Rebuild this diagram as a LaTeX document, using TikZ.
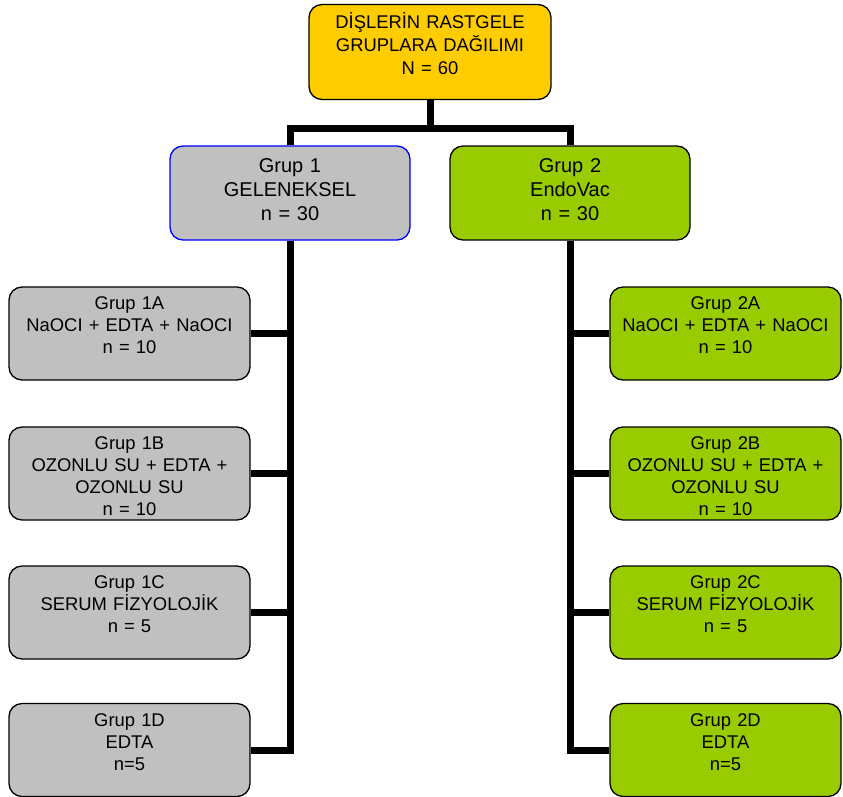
\documentclass[tikz,border=0pt]{standalone}
\usepackage{fontspec}
\setmainfont{Liberation Sans}
\usetikzlibrary{calc}

\definecolor{topyellow}{RGB}{255,204,0}
\definecolor{grupgray}{RGB}{192,192,192}
\definecolor{grupgreen}{RGB}{153,204,0}

\begin{document}
\begin{tikzpicture}[x=1pt,y=-1pt,
    box/.style={draw=black,line width=1.3pt,rounded corners=13pt,inner sep=0pt,align=center},
    mainbox/.style={box,fill=topyellow,text width=242pt,text height=24pt,text depth=71pt,
        font=\fontsize{18.4}{23}\selectfont},
    grupbox/.style={box,text width=240pt,text height=26pt,text depth=68pt,
        font=\fontsize{20}{24.3}\selectfont},
    subbox/.style={box,text height=22.5pt,text depth=70.5pt,
        font=\fontsize{18.4}{22}\selectfont},
    leftbox/.style={subbox,fill=grupgray,text width=241pt},
    rightbox/.style={subbox,fill=grupgreen,text width=231pt},
    link/.style={line width=7pt}]

\useasboundingbox (0,0) rectangle (843,796);

% Main box
\node[mainbox] (top) at (430,52) {DİŞLERİN RASTGELE\\GRUPLARA DAĞILIMI\\N = 60};

% Two groups
\node[grupbox,fill=grupgray,draw=blue] (g1) at (290,193) {Grup 1\\GELENEKSEL\\n = 30};
\node[grupbox,fill=grupgreen] (g2) at (570,193) {Grup 2\\EndoVac\\n = 30};

% Sub groups, left
\node[leftbox] (g1a) at (129.5,333.5) {Grup 1A\\NaOCI + EDTA + NaOCI\\n = 10};
\node[leftbox] (g1b) at (129.5,473.5) {Grup 1B\\OZONLU SU + EDTA +\\OZONLU SU\\n = 10};
\node[leftbox] (g1c) at (129.5,612.5) {Grup 1C\\SERUM FİZYOLOJİK\\n = 5};
\node[leftbox] (g1d) at (129.5,750) {Grup 1D\\EDTA\\n=5};

% Sub groups, right
\node[rightbox] (g2a) at (725.5,333.5) {Grup 2A\\NaOCI + EDTA + NaOCI\\n = 10};
\node[rightbox] (g2b) at (725.5,473.5) {Grup 2B\\OZONLU SU + EDTA +\\OZONLU SU\\n = 10};
\node[rightbox] (g2c) at (725.5,612.5) {Grup 2C\\SERUM FİZYOLOJİK\\n = 5};
\node[rightbox] (g2d) at (725.5,750) {Grup 2D\\EDTA\\n=5};

% Links from the main box
\coordinate (split) at ($(top.south)+(0,28)$);
\draw[link] (top.south) -- (split) -| (g1.north);
\draw[link] (split) -| (g2.north);

% Trunks and branches
\draw[link] (g1.south) |- (g1d.east);
\draw[link] (g2.south) |- (g2d.west);
\foreach \s in {a,b,c} {
    \draw[link] (g1.south |- g1\s.east) -- (g1\s.east);
    \draw[link] (g2.south |- g2\s.west) -- (g2\s.west);
}

\end{tikzpicture}
\end{document}
